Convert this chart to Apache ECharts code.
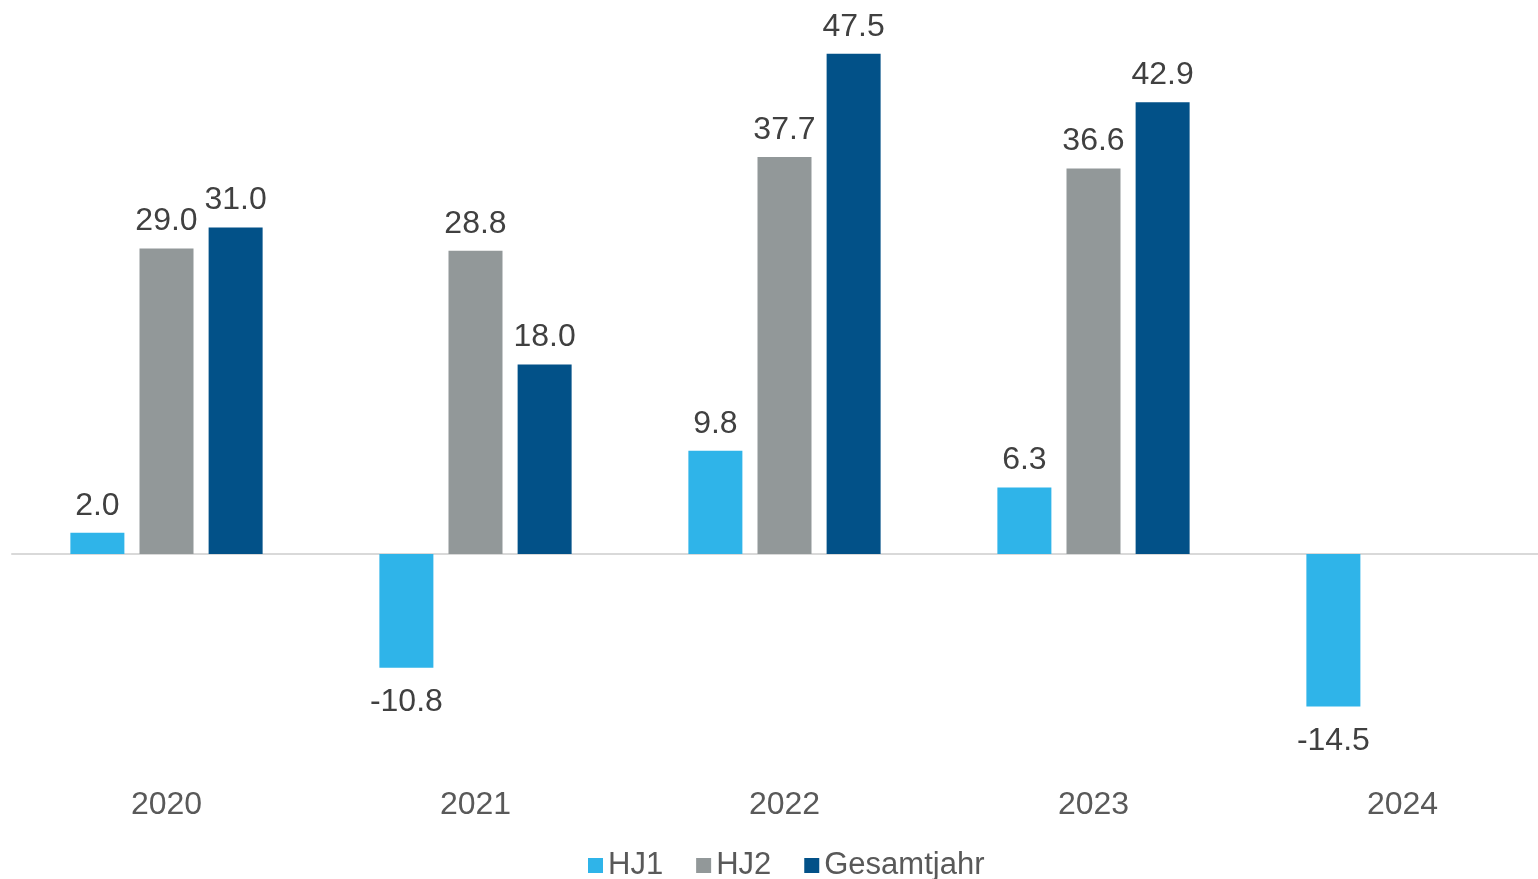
<!DOCTYPE html>
<html>
<head>
<meta charset="utf-8">
<script src="https://cdn.jsdelivr.net/npm/echarts@6/dist/echarts.min.js"></script>
<style>
  html, body { margin: 0; padding: 0; background: #fff; }
  #main { width: 1538px; height: 879px; }
</style>
</head>
<body>
<div id="main"></div>
<script>
// Jahre und Werte
const years = ['2020', '2021', '2022', '2023', '2024']
const hj1 = [2.0, -10.8, 9.8, 6.3, -14.5]
const hj2 = [29.0, 28.8, 37.7, 36.6, null]
const gesamt = [31.0, 18.0, 47.5, 42.9, null]

const fontFamily = 'Liberation Sans, Arial, sans-serif'

let myChart = echarts.init(document.getElementById('main'))

function barSeries (name, data, color) {
    return {
        name: name,
        type: 'bar',
        xAxisIndex: 0,
        barWidth: 54,
        barGap: '28%',
        itemStyle: { color: color },
        label: {
            show: true,
            position: 'top',
            distance: 11,
            color: '#404040',
            fontSize: 32,
            fontFamily: fontFamily,
            formatter: function (p) {
                return p.value == null ? '' : p.value.toFixed(1)
            }
        },
        data: data.map(function (v) {
            if (v != null && v < 0) {
                return { value: v, label: { position: 'bottom', distance: 19 } }
            }
            return v
        })
    }
}

let option = {
    backgroundColor: '#ffffff',
    animation: false,
    grid: {
        left: 12,
        width: 1545,
        top: 27.5,
        bottom: 114.5,
        containLabel: false,
        outerBoundsMode: 'none'
    },
    legend: {
        top: 845,
        left: 583,
        itemWidth: 15,
        itemHeight: 15,
        itemGap: 33,
        icon: 'rect',
        textStyle: {
            color: '#595959',
            fontSize: 31,
            fontFamily: fontFamily
        },
        data: ['HJ1', 'HJ2', 'Gesamtjahr']
    },
    xAxis: [
        {
            // Nulllinie
            type: 'category',
            data: years,
            axisLine: { onZero: true, lineStyle: { color: '#d9d9d9', width: 2 } },
            axisTick: { show: false },
            axisLabel: { show: false }
        },
        {
            // Jahresbeschriftung unten
            type: 'category',
            position: 'bottom',
            data: years,
            axisLine: { show: false, onZero: false },
            axisTick: { show: false },
            axisLabel: {
                color: '#595959',
                fontSize: 32,
                fontFamily: fontFamily,
                margin: 25
            }
        }
    ],
    yAxis: {
        type: 'value',
        min: -20,
        max: 50,
        show: false,
        splitLine: { show: false }
    },
    series: [
        barSeries('HJ1', hj1, '#2FB4E9'),
        barSeries('HJ2', hj2, '#929899'),
        barSeries('Gesamtjahr', gesamt, '#025188')
    ]
}

myChart.setOption(option)
</script>
</body>
</html>
